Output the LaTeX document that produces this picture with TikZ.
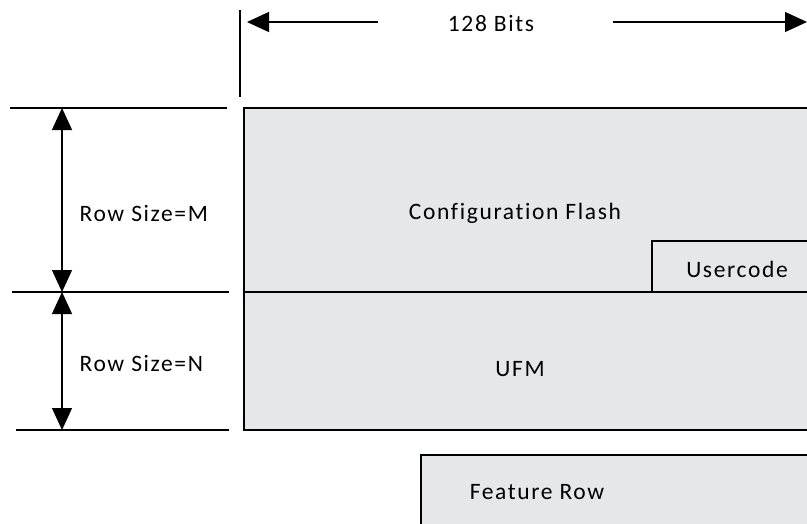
\documentclass[tikz,border=0pt]{standalone}
\usepackage{fontspec}
\setmainfont{Carlito}[LetterSpace=7,Ligatures=NoCommon]
\usetikzlibrary{arrows.meta}

\definecolor{memgray}{HTML}{E6E7E8}

\begin{document}
\begin{tikzpicture}[x=1pt,y=-1pt,line width=1.3pt,
        >={Triangle[width=20pt,length=22pt]},
        block/.style={draw,fill=memgray},
        lbl/.style={font=\fontsize{23.5}{27}\selectfont,inner sep=0pt}]
    \useasboundingbox (0,0) rectangle (807,523);
    \clip (0,0) rectangle (807,523);
    % memory blocks
    \draw[block] (244,108) rectangle (830,292);
    \draw[block] (652,241) rectangle (830,292);
    \draw[block] (244,292) rectangle (830,430);
    \draw[block] (421,455) rectangle (830,540);
    \node[lbl] (cfg) at (515,213) {Configuration Flash};
    \node[lbl] (user) at (737,269) {Usercode};
    \node[lbl] (ufm) at (520,369) {UFM};
    \node[lbl] (feat) at (537,492) {Feature Row};
    % width marker
    \draw (240,10) -- (240,97);
    \node[lbl] (bits) at (491,23) {128 Bits};
    \coordinate (bits_l) at (378,22);
    \coordinate (bits_r) at (613,22);
    \coordinate (tip_l) at (247,22);
    \coordinate (tip_r) at (807,22);
    \draw[->] (bits_l) -- (tip_l);
    \draw[->] (bits_r) -- (tip_r);
    % row size markers
    \coordinate (row_a) at (62,108);
    \coordinate (row_b) at (62,292);
    \coordinate (row_c) at (62,430);
    \draw (10,108) -- (227,108);
    \draw (12,292) -- (229,292);
    \draw (16,430) -- (229,430);
    \draw[<->] (row_a) -- (row_b);
    \draw[<->] (row_b) -- (row_c);
    \node[lbl,anchor=west] (rowm) at (79,213) {Row Size=M};
    \node[lbl,anchor=west] (rown) at (79,363) {Row Size=N};
\end{tikzpicture}
\end{document}
